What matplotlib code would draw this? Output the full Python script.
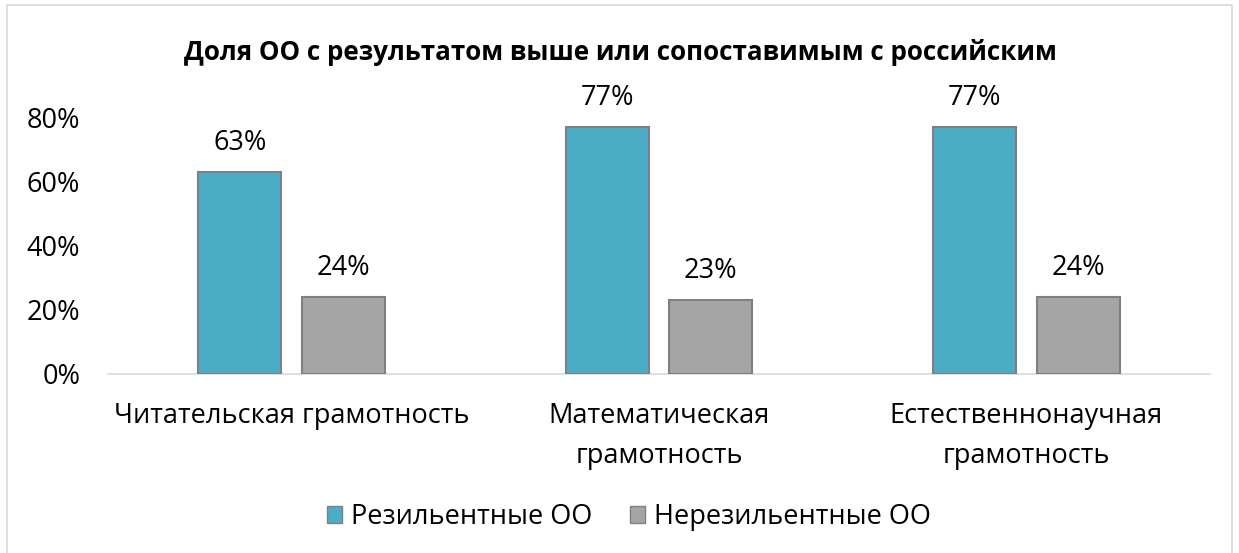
import matplotlib.pyplot as plt
import matplotlib.patches as mpatches
import numpy as np

categories = ["Читательская грамотность", "Математическая\nграмотность", "Естественнонаучная\nграмотность"]
series_names = ["Резильентные ОО", "Нерезильентные ОО"]
resilient = [0.63, 0.77, 0.77]
nonresilient = [0.24, 0.23, 0.24]
yticks = [0, 0.2, 0.4, 0.6, 0.8]
title = "Доля ОО с результатом выше или сопоставимым с российским"

plt.rcParams['font.family'] = ['Open Sans', 'DejaVu Sans']
FS = 19.5

fig = plt.figure(figsize=(12.39, 5.53), dpi=100)
ax = fig.add_axes([108/1239, 1-374/553, (1210-108)/1239, (374-117)/553])

x = np.arange(len(categories))
w = 0.226
off = 0.141
colors = ["#4BACC6", "#A5A5A5"]
edge = "#808080"
for vals, o, c in [(resilient, -off, colors[0]), (nonresilient, off, colors[1])]:
    bars = ax.bar(x + o, vals, w, color=c, edgecolor=edge, linewidth=1.5, zorder=3)
    for b, v in zip(bars, vals):
        ax.annotate(f"{round(v*100)}%", (b.get_x() + b.get_width()/2, v),
                    xytext=(0, 29), textcoords="offset pixels", ha="center", va="center",
                    fontsize=FS, color="#000000", annotation_clip=False)

ax.set_xlim(-0.5, 2.5)
ax.set_ylim(0, 0.8)
ax.set_yticks(yticks)
ax.set_yticklabels([f"{int(t*100)}%" for t in yticks], fontsize=FS)
ax.set_xticks(x)
ax.set_xticklabels(categories, fontsize=FS, linespacing=1.6, va="top")
ax.tick_params(axis="y", length=0, pad=20)
ax.tick_params(axis="x", length=0, pad=20)
for s in ["top", "right", "left"]:
    ax.spines[s].set_visible(False)
ax.spines["bottom"].set_color("#D9D9D9")
ax.spines["bottom"].set_linewidth(1.2)

fig.text(620/1239, 1-53/553, title, ha="center", va="center", fontsize=18.7, fontweight="bold")

handles = [mpatches.Patch(facecolor=colors[0], edgecolor=edge, label=series_names[0]),
           mpatches.Patch(facecolor=colors[1], edgecolor=edge, label=series_names[1])]
fig.legend(handles=handles, loc="center", bbox_to_anchor=(629/1239, 1-517/553), ncol=2,
           frameon=False, fontsize=FS, handlelength=0.55, handleheight=0.55,
           handletextpad=0.33, columnspacing=1.4)

fig.patches.append(mpatches.Rectangle((7/1239, -0.01), (1232-7)/1239, 1-5/553 + 0.01,
                                      transform=fig.transFigure, fill=False,
                                      edgecolor="#D9D9D9", linewidth=1.2))

fig.savefig("out.png", dpi=100)
